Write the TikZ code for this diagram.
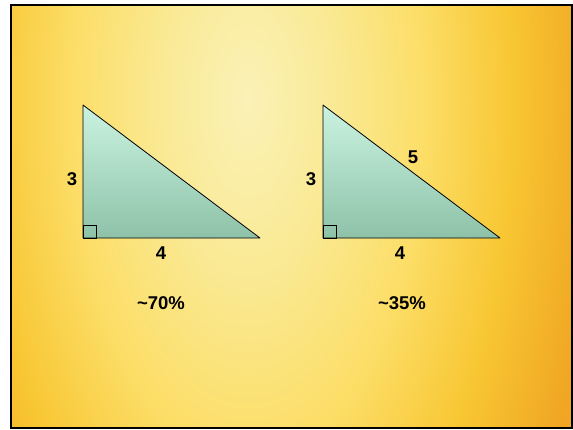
\documentclass[tikz,border=0pt]{standalone}
\usepackage{fontspec}
\setmainfont{Liberation Sans}
\definecolor{bg0}{RGB}{250,241,182}
\definecolor{bg1}{RGB}{250,234,150}
\definecolor{bg2}{RGB}{252,222,104}
\definecolor{bg3}{RGB}{248,198,50}
\definecolor{bg4}{RGB}{240,166,36}
\definecolor{mintA}{RGB}{202,243,225}
\definecolor{mintB}{RGB}{142,194,168}
\pgfdeclareradialshading{slidebg}{\pgfpoint{0bp}{0bp}}{color(0bp)=(bg0); color(6bp)=(bg1); color(12.5bp)=(bg2); color(19bp)=(bg3); color(25bp)=(bg4); color(50bp)=(bg4)}
\tikzset{
  lbl/.style={font=\fontsize{18.5}{20}\selectfont\bfseries, inner sep=0pt, text=black},
  tri/.style={draw=black, line width=0.8pt, line join=round, top color=mintA, bottom color=mintB},
  rbox/.style={draw=black, line width=0.8pt},
}
\begin{document}
\begin{tikzpicture}[x=1pt, y=-1pt]
  \useasboundingbox (0,0) rectangle (573,429);
  \fill[white] (0,0) rectangle (573,429);
  \begin{scope}
    \clip (11,5) rectangle (572,428);
    \fill[bg4] (11,5) rectangle (572,428);
    \shade[shading=slidebg] (248,100) ellipse [x radius=350pt, y radius=700pt];
  \end{scope}
  \draw[black, line width=1.5pt] (11,5) rectangle (572,428);

  % left triangle
  \coordinate (LA) at (83,105);
  \coordinate (LB) at (83,238);
  \coordinate (LC) at (260,238);
  \path[tri] (LA) -- (LB) -- (LC) -- cycle;
  \draw[rbox] (LB) rectangle ++(13,-13);
  \node[lbl] (l3) at (72,179) {3};
  \node[lbl] (l4) at (161,253) {4};
  \node[lbl] (lp) at (161,303) {\textasciitilde 70\%};

  % right triangle
  \coordinate (RA) at (323,105);
  \coordinate (RB) at (323,238);
  \coordinate (RC) at (500,238);
  \path[tri] (RA) -- (RB) -- (RC) -- cycle;
  \draw[rbox] (RB) rectangle ++(13,-13);
  \node[lbl] (r3) at (311,179) {3};
  \node[lbl] (r5) at (413,157) {5};
  \node[lbl] (r4) at (400,253) {4};
  \node[lbl] (rp) at (402,303) {\textasciitilde 35\%};
\end{tikzpicture}
\end{document}
